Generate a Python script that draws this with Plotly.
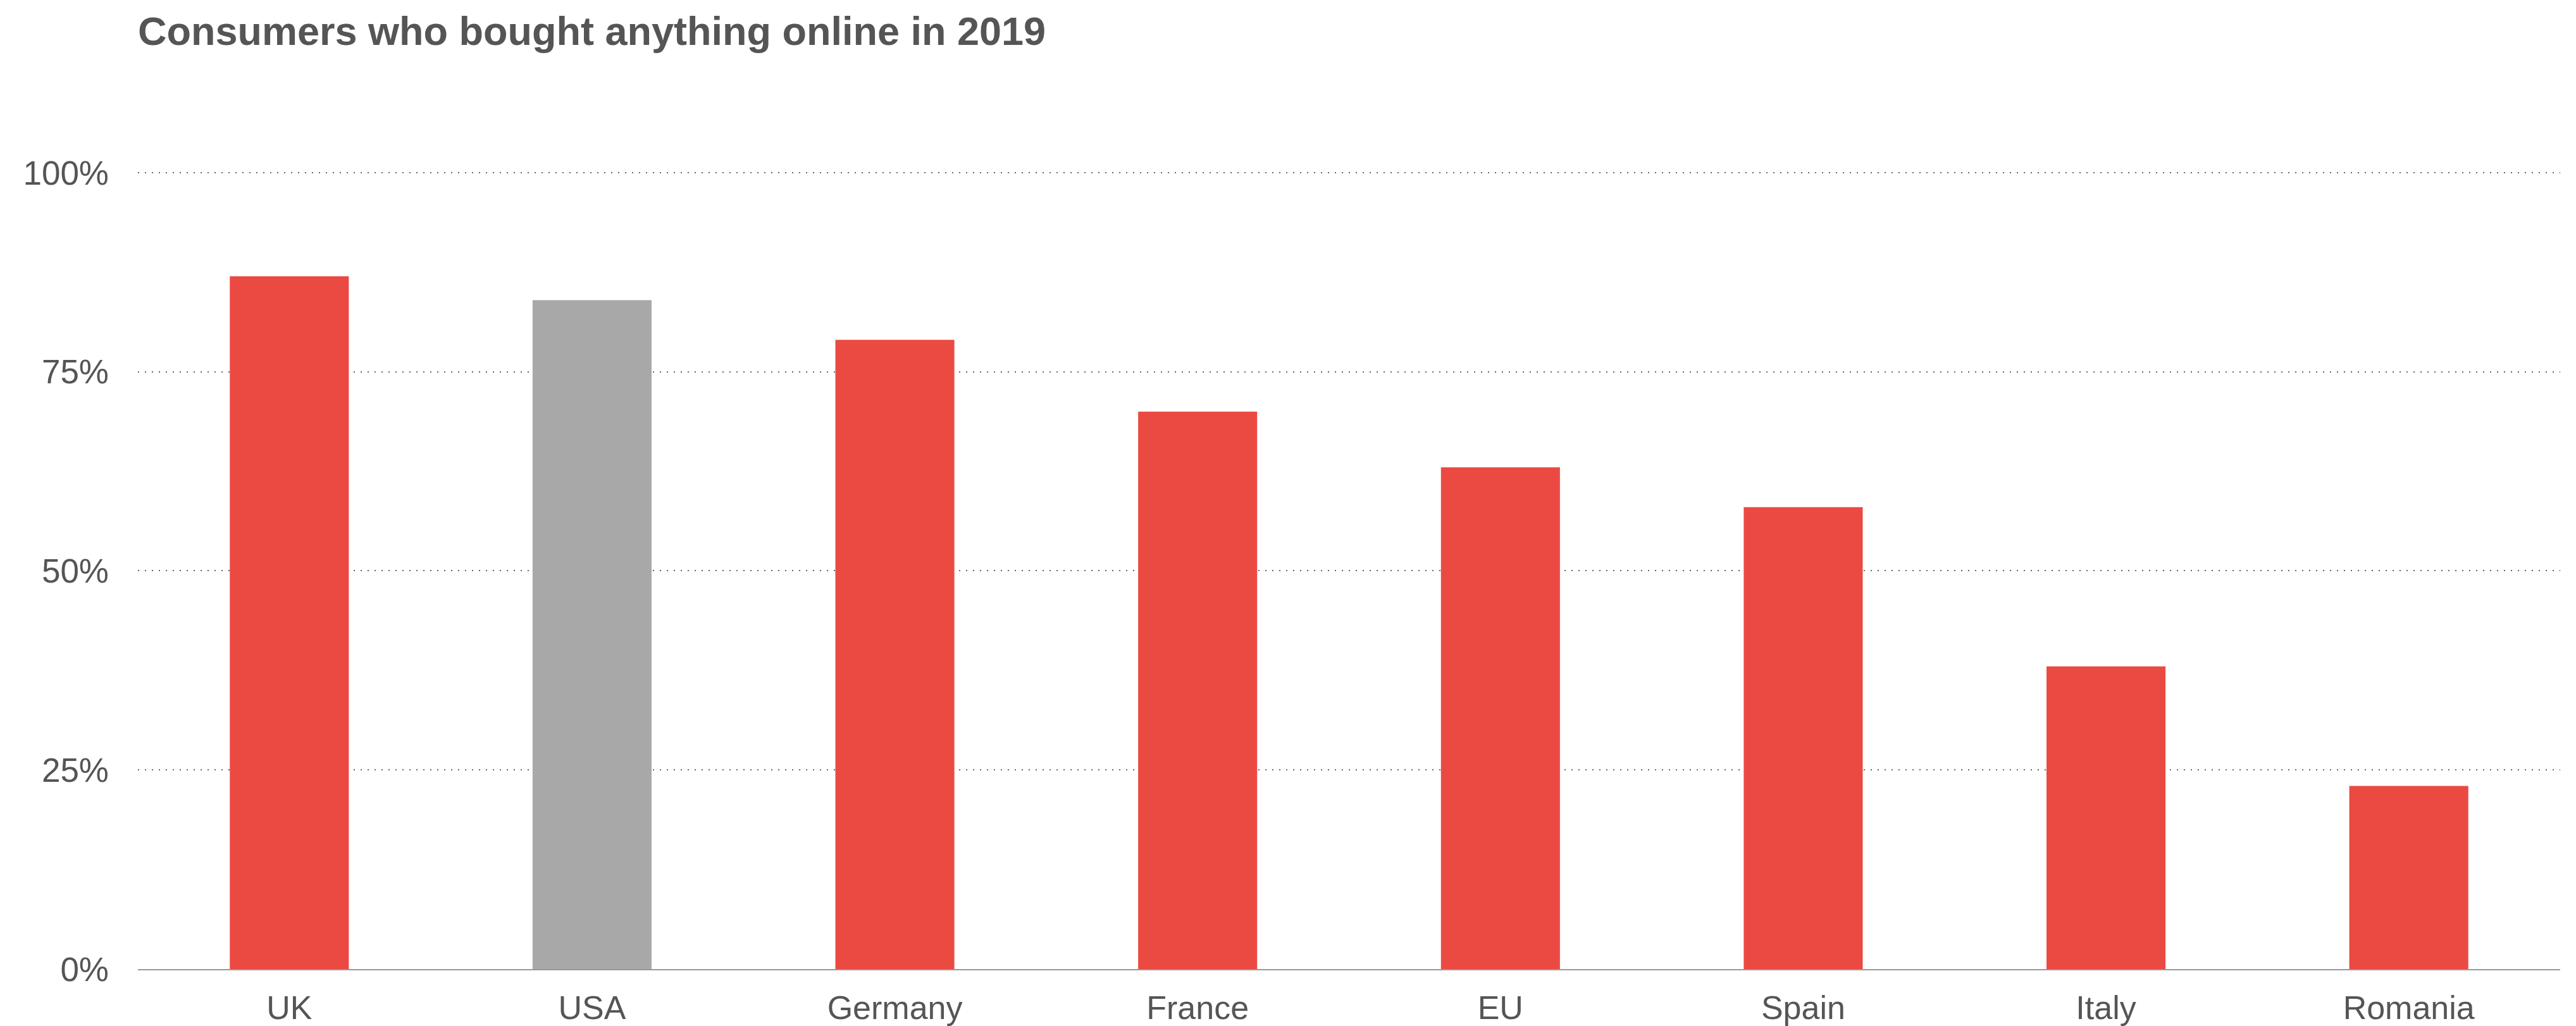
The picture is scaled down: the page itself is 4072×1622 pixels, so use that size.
import plotly.graph_objects as go

categories = ["UK", "USA", "Germany", "France", "EU", "Spain", "Italy", "Romania"]
values = [87, 84, 79, 70, 63, 58, 38, 23]
bar_colors = ["#EA4A42", "#A8A8A8", "#EA4A42", "#EA4A42", "#EA4A42", "#EA4A42", "#EA4A42", "#EA4A42"]
y_ticks = [0, 25, 50, 75, 100]
y_tick_labels = ["0%", "25%", "50%", "75%", "100%"]
title_text = "Consumers who bought anything online in 2019"

W, H = 4072, 1622
text_color = "#555555"
font_family = "Liberation Sans, Arial, Helvetica, sans-serif"

fig = go.Figure(
    go.Bar(
        x=categories,
        y=values,
        marker=dict(color=bar_colors, line=dict(width=0)),
        hoverinfo="x+y",
    )
)

fig.update_layout(
    width=W,
    height=H,
    paper_bgcolor="white",
    plot_bgcolor="white",
    margin=dict(l=218, r=25, t=210, b=90, pad=0, autoexpand=False),
    bargap=0.607,
    showlegend=False,
    font=dict(family=font_family, color=text_color, size=52),
    title=dict(
        text="<b>" + title_text + "</b>",
        font=dict(family=font_family, size=63, color=text_color),
        xref="container",
        yref="container",
        x=218 / W,
        xanchor="left",
        y=1 - 27 / H,
        yanchor="top",
    ),
)

fig.update_xaxes(
    showgrid=False,
    showline=True,
    linecolor="#999999",
    linewidth=2,
    ticks="",
    tickfont=dict(size=52, color=text_color),
    ticklabelstandoff=15,
    zeroline=False,
    automargin=False,
)

fig.update_yaxes(
    range=[0, 105],
    tickvals=y_ticks,
    ticktext=y_tick_labels,
    showgrid=True,
    gridcolor="#666666",
    gridwidth=2,
    griddash="2px,9px",
    zeroline=False,
    showline=False,
    ticks="",
    tickfont=dict(size=53, color=text_color),
    ticklabelstandoff=45,
    automargin=False,
)

fig.write_html("out.html")
